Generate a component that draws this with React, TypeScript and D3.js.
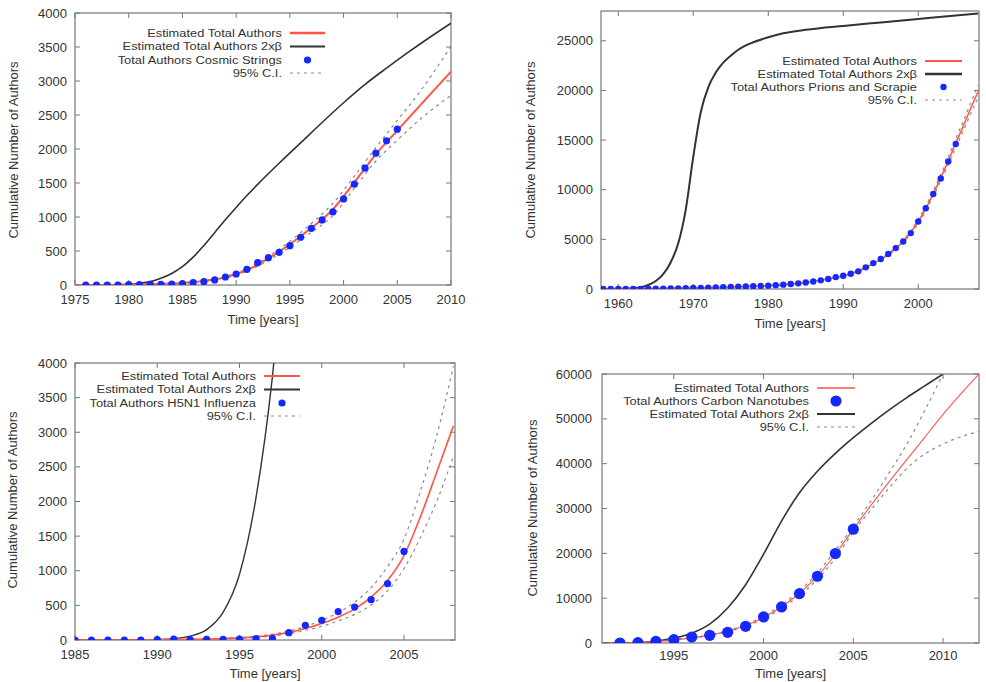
import React from "react";
import * as d3 from "d3";

// ---------- Panel 1: Cosmic Strings ----------
const p1PointYears = [1976,1977,1978,1979,1980,1981,1982,1983,1984,1985,1986,1987,1988,1989,1990,1991,1992,1993,1994,1995,1996,1997,1998,1999,2000,2001,2002,2003,2004,2005];
const p1Points = [0,0,0,0,5,5,10,10,15,20,35,49,74,118,162,231,329,402,481,579,702,834,957,1075,1266,1482,1718,1939,2120,2292];
const p1EstYears = [1975,1977,1979,1981,1983,1985,1987,1989,1991,1993,1995,1997,1999,2001,2003,2005,2007,2010];
const p1Est = [0,1,3,8,16,30,60,115,220,390,600,840,1110,1510,1920,2270,2620,3140];
const p1Upper = [0,1,4,9,18,34,66,125,238,420,645,905,1200,1600,2020,2420,2820,3510];
const p1Lower = [0,1,2,7,14,26,54,105,202,360,555,775,1020,1420,1820,2130,2420,2790];
const p1BetaYears = [1975,1978,1980,1981,1982,1983,1984,1985,1986,1987,1988,1989,1990,1991,1992,1994,1996,1998,2000,2002,2004,2006,2008,2010];
const p1Beta = [0,2,10,25,50,100,170,270,410,580,770,960,1140,1315,1480,1790,2090,2390,2680,2950,3190,3420,3640,3850];
const p1XTicks = [1975,1980,1985,1990,1995,2000,2005,2010];
const p1YTicks = [0,500,1000,1500,2000,2500,3000,3500,4000];

// ---------- Panel 2: Prions and Scrapie ----------
const p2PointYears = [1958,1959,1960,1961,1962,1963,1964,1965,1966,1967,1968,1969,1970,1971,1972,1973,1974,1975,1976,1977,1978,1979,1980,1981,1982,1983,1984,1985,1986,1987,1988,1989,1990,1991,1992,1993,1994,1995,1996,1997,1998,1999,2000,2001,2002,2003,2004,2005];
const p2Points = [0,0,0,0,10,15,20,30,40,50,65,80,100,115,130,150,170,195,220,245,270,300,335,390,440,500,570,660,760,870,1000,1200,1340,1540,1780,2180,2610,3020,3520,4120,4790,5630,6800,8140,9580,11130,12840,14610];
const p2EstYears = [1958,1965,1970,1975,1980,1985,1988,1990,1992,1994,1996,1998,2000,2001,2002,2003,2004,2005,2006,2007,2008];
const p2Est = [0,40,100,200,340,660,1000,1300,1800,2550,3500,4800,6800,8100,9600,11200,12900,14700,16400,18200,19900];
const p2Upper = [0,42,104,208,352,680,1030,1340,1860,2630,3600,4940,7000,8340,9880,11530,13280,15140,16890,18750,20500];
const p2Lower = [0,38,96,192,328,640,970,1260,1740,2470,3400,4660,6600,7860,9320,10870,12520,14260,15910,17650,19300];
const p2BetaYears = [1958,1960,1962,1963,1964,1965,1966,1967,1968,1969,1970,1971,1972,1973,1974,1975,1976,1978,1980,1982,1985,1990,1995,2000,2005,2008];
const p2Beta = [0,20,80,180,400,800,1500,2700,4600,8000,13300,17800,20300,21800,22800,23500,24100,24850,25350,25750,26100,26500,26850,27200,27550,27750];
const p2XTicks = [1960,1970,1980,1990,2000];
const p2YTicks = [0,5000,10000,15000,20000,25000];

// ---------- Panel 3: H5N1 Influenza ----------
const p3PointYears = [1985,1986,1987,1988,1989,1990,1991,1992,1993,1994,1995,1996,1997,1998,1999,2000,2001,2002,2003,2004,2005];
const p3Points = [0,0,0,0,0,5,14,5,8,10,12,20,25,106,212,284,409,476,582,813,1279];
const p3EstYears = [1985,1988,1990,1992,1994,1995,1996,1997,1998,1999,2000,2001,2002,2003,2004,2005,2006,2007,2008];
const p3Est = [0,1,4,10,20,30,45,70,110,165,240,330,450,620,860,1220,1780,2430,3090];
const p3Upper = [0,1,5,12,24,36,55,85,130,195,285,395,545,755,1060,1460,2150,2960,3950];
const p3Lower = [0,1,3,8,16,24,36,57,92,138,198,275,370,505,710,1030,1480,2010,2650];
const p3BetaYears = [1985,1987,1989,1990,1991,1992,1993,1994,1995,1996,1997,1997.5];
const p3Beta = [0,1,4,8,20,55,150,400,950,2050,3800,5000];
const p3XTicks = [1985,1990,1995,2000,2005];
const p3YTicks = [0,500,1000,1500,2000,2500,3000,3500,4000];

// ---------- Panel 4: Carbon Nanotubes ----------
const p4PointYears = [1992,1993,1994,1995,1996,1997,1998,1999,2000,2001,2002,2003,2004,2005];
const p4Points = [0,70,370,745,1340,1710,2380,3720,5810,8040,11020,14890,19950,25390];
const p4EstYears = [1991,1992,1993,1994,1995,1996,1997,1998,1999,2000,2001,2002,2003,2004,2005,2006,2007,2008,2009,2010,2011,2012];
const p4Est = [0,30,120,350,700,1150,1750,2650,3900,5700,8100,11100,14900,19800,25400,30800,36000,41000,46000,51000,55600,60000];
const p4Upper = [0,30,125,365,730,1200,1830,2780,4100,6000,8500,11650,15600,20700,26000,31800,38000,44500,52000,60000,68000,76000];
const p4Lower = [0,30,115,335,670,1100,1670,2520,3700,5400,7700,10550,14200,18900,24800,29800,34600,39000,42200,44400,46000,47200];
const p4BetaYears = [1991,1992,1993,1994,1995,1996,1997,1998,1999,2000,2001,2002,2003,2004,2005,2006,2007,2008,2009,2010,2011];
const p4Beta = [0,20,100,400,1100,2200,4200,7800,13000,19800,27200,33500,38300,42300,45800,49000,52000,54800,57400,60000,62500];
const p4XTicks = [1995,2000,2005,2010];
const p4YTicks = [0,10000,20000,30000,40000,50000,60000];

const estLabel = "Estimated Total Authors";
const betaLabel = "Estimated Total Authors 2x\u03B2";
const ciLabel = "95% C.I.";
const xTitle = "Time [years]";
const yTitle = "Cumulative Number of Authors";

const FONT = "'Liberation Sans', Arial, Helvetica, sans-serif";
const TXT = "#333";
const RED = "#ff5545";
const BLACK = "#333";
const BLUE = "#1428ff";
const CI = "#8a8a8a";

type Panel = {
  id: string;
  box: [number, number, number, number];
  xDomain: [number, number];
  yDomain: [number, number];
  xTicks: number[];
  yTicks: number[];
  pointYears: number[]; points: number[];
  estYears: number[]; est: number[]; upper: number[]; lower: number[];
  betaYears: number[]; beta: number[];
  pointLabel: string;
  order: string[];
  legend: { right: number; ys: number[]; s0: number; s1: number };
  yLabelPos: [number, number];
  xLabelY: number; xTickY: number; yTickRight: number;
  r: number; estW: number; betaW: number;
};

const panels: Panel[] = [
  {
    id: "p1", box: [75, 13, 451, 285], xDomain: [1975, 2010], yDomain: [0, 4000],
    xTicks: p1XTicks, yTicks: p1YTicks,
    pointYears: p1PointYears, points: p1Points, estYears: p1EstYears, est: p1Est, upper: p1Upper, lower: p1Lower,
    betaYears: p1BetaYears, beta: p1Beta, pointLabel: "Total Authors Cosmic Strings",
    order: ["est", "beta", "pts", "ci"], legend: { right: 282, ys: [33, 46.5, 60, 73], s0: 290, s1: 325 },
    yLabelPos: [13, 150], xLabelY: 324, xTickY: 304, yTickRight: 67, r: 3.6, estW: 2, betaW: 1.6,
  },
  {
    id: "p2", box: [601, 11, 979, 289], xDomain: [1957.7, 2008.1], yDomain: [0, 28000],
    xTicks: p2XTicks, yTicks: p2YTicks,
    pointYears: p2PointYears, points: p2Points, estYears: p2EstYears, est: p2Est, upper: p2Upper, lower: p2Lower,
    betaYears: p2BetaYears, beta: p2Beta, pointLabel: "Total Authors Prions and Scrapie",
    order: ["est", "beta", "pts", "ci"], legend: { right: 917, ys: [61, 74, 87, 100], s0: 925, s1: 962 },
    yLabelPos: [530, 150], xLabelY: 328, xTickY: 308, yTickRight: 593, r: 3.2, estW: 1.5, betaW: 2,
  },
  {
    id: "p3", box: [75, 363, 455, 640], xDomain: [1985, 2008.1], yDomain: [0, 4000],
    xTicks: p3XTicks, yTicks: p3YTicks,
    pointYears: p3PointYears, points: p3Points, estYears: p3EstYears, est: p3Est, upper: p3Upper, lower: p3Lower,
    betaYears: p3BetaYears, beta: p3Beta, pointLabel: "Total Authors H5N1 Influenza",
    order: ["est", "beta", "pts", "ci"], legend: { right: 256, ys: [376, 389.5, 403, 416], s0: 264, s1: 300 },
    yLabelPos: [12, 500], xLabelY: 678, xTickY: 659, yTickRight: 67, r: 3.6, estW: 1.6, betaW: 1.4,
  },
  {
    id: "p4", box: [602, 374, 979, 643], xDomain: [1991, 2012], yDomain: [0, 60000],
    xTicks: p4XTicks, yTicks: p4YTicks,
    pointYears: p4PointYears, points: p4Points, estYears: p4EstYears, est: p4Est, upper: p4Upper, lower: p4Lower,
    betaYears: p4BetaYears, beta: p4Beta, pointLabel: "Total Authors Carbon Nanotubes",
    order: ["est", "pts", "beta", "ci"], legend: { right: 809, ys: [388, 401, 414, 427], s0: 817, s1: 855 },
    yLabelPos: [532, 508], xLabelY: 678, xTickY: 660, yTickRight: 592, r: 5.6, estW: 1.1, betaW: 1.6,
  },
];

function PanelView({ p }: { p: Panel }) {
  const [x0, y0, x1, y1] = p.box;
  const x = d3.scaleLinear().domain(p.xDomain).range([x0, x1]);
  const y = d3.scaleLinear().domain(p.yDomain).range([y1, y0]);
  const line = (xs: number[], vs: number[]) =>
    d3.line<number>().x((_, i) => x(xs[i])).y((v) => y(v)).curve(d3.curveMonotoneX)(vs) || "";
  const clipId = `clip-${p.id}`;
  const L = p.legend;
  const labels: Record<string, string> = { est: estLabel, beta: betaLabel, pts: p.pointLabel, ci: ciLabel };
  return (
    <g>
      <defs>
        <clipPath id={clipId}>
          <rect x={x0} y={y0} width={x1 - x0} height={y1 - y0} />
        </clipPath>
      </defs>
      {p.yTicks.map((t) => (
        <g key={"y" + t}>
          <line x1={x0} x2={x0 + 5} y1={y(t)} y2={y(t)} stroke="#777" />
          <line x1={x1 - 5} x2={x1} y1={y(t)} y2={y(t)} stroke="#777" />
          <text x={p.yTickRight} y={y(t)} textAnchor="end" dominantBaseline="central" fontSize={13} fill={TXT} fontFamily={FONT}>{String(t)}</text>
        </g>
      ))}
      {p.xTicks.map((t) => (
        <g key={"x" + t}>
          <line x1={x(t)} x2={x(t)} y1={y1} y2={y1 - 5} stroke="#777" />
          <line x1={x(t)} x2={x(t)} y1={y0} y2={y0 + 5} stroke="#777" />
          <text x={x(t)} y={p.xTickY} textAnchor="middle" fontSize={13} fill={TXT} fontFamily={FONT}>{String(t)}</text>
        </g>
      ))}
      <rect x={x0} y={y0} width={x1 - x0} height={y1 - y0} fill="none" stroke="#777" strokeWidth={1.2} />
      <g clipPath={`url(#${clipId})`}>
        <path d={line(p.betaYears, p.beta)} fill="none" stroke={BLACK} strokeWidth={p.betaW} />
        <path d={line(p.estYears, p.upper)} fill="none" stroke={CI} strokeWidth={1.2} strokeDasharray="3,4" />
        <path d={line(p.estYears, p.lower)} fill="none" stroke={CI} strokeWidth={1.2} strokeDasharray="3,4" />
        <path d={line(p.estYears, p.est)} fill="none" stroke={RED} strokeWidth={p.estW} />
        {p.points.map((v, i) => (
          <circle key={i} cx={x(p.pointYears[i])} cy={y(v)} r={p.r} fill={BLUE} />
        ))}
      </g>
      {p.order.map((k, i) => {
        const ly = L.ys[i];
        return (
          <g key={k}>
            <g transform={`translate(${L.right},${ly}) scale(1.12,1)`}>
              <text x={0} y={0} textAnchor="end" dominantBaseline="central" fontSize={11.5} fill={TXT} fontFamily={FONT}>{labels[k]}</text>
            </g>
            {k === "est" && <line x1={L.s0} x2={L.s1} y1={ly} y2={ly} stroke={RED} strokeWidth={p.estW + 0.4} />}
            {k === "beta" && <line x1={L.s0} x2={L.s1} y1={ly} y2={ly} stroke={BLACK} strokeWidth={p.betaW + 0.4} />}
            {k === "ci" && <line x1={L.s0} x2={L.s1} y1={ly} y2={ly} stroke={CI} strokeWidth={1.2} strokeDasharray="3,4" />}
            {k === "pts" && <circle cx={(L.s0 + L.s1) / 2} cy={ly} r={p.r} fill={BLUE} />}
          </g>
        );
      })}
      <text x={(x0 + x1) / 2} y={p.xLabelY} textAnchor="middle" fontSize={13} fill={TXT} fontFamily={FONT}>{xTitle}</text>
      <text transform={`translate(${p.yLabelPos[0]},${p.yLabelPos[1]}) rotate(-90)`} textAnchor="middle" dominantBaseline="central" fontSize={13} fill={TXT} fontFamily={FONT}>{yTitle}</text>
    </g>
  );
}

export default function App() {
  return (
    <svg width={986} height={682} style={{ position: "absolute", left: 0, top: 0, background: "#fff" }}>
      <rect width={986} height={682} fill="#fff" />
      {panels.map((p) => (
        <PanelView key={p.id} p={p} />
      ))}
    </svg>
  );
}
